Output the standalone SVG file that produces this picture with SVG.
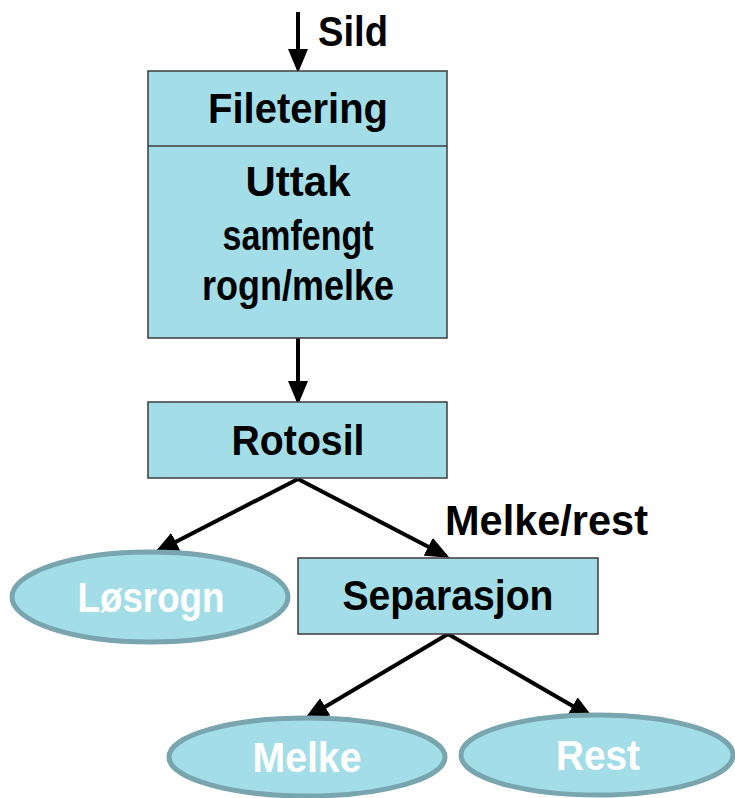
<svg xmlns="http://www.w3.org/2000/svg" width="735" height="798" viewBox="0 0 735 798">
<style>
.box{fill:#A3DEE8;stroke:#3c3c3c;stroke-width:1.5}
.ell{fill:#A3DEE8;stroke:#78A5AE;stroke-width:5}
.t{font-family:"Liberation Sans",Arial,sans-serif;font-weight:bold;font-size:42px;fill:#000;text-anchor:middle}
.w{fill:#fff}
.l{text-anchor:start}
.c{stroke:#000;stroke-width:4;fill:none}
</style>
<defs>
<marker id="ah" markerWidth="6" markerHeight="5" refX="5" refY="2.5" orient="auto" markerUnits="strokeWidth">
<path d="M0,0 L6,2.5 L0,5 Z" fill="#000"/>
</marker>
</defs>
<g id="connectors">
<line class="c" x1="298" y1="12" x2="298" y2="69" marker-end="url(#ah)"/>
<line class="c" x1="298" y1="338" x2="298" y2="401" marker-end="url(#ah)"/>
<line class="c" x1="298" y1="479" x2="158" y2="551" marker-end="url(#ah)"/>
<line class="c" x1="298" y1="479" x2="446" y2="556" marker-end="url(#ah)"/>
<line class="c" x1="448" y1="634" x2="308" y2="717" marker-end="url(#ah)"/>
<line class="c" x1="448" y1="634" x2="590" y2="716" marker-end="url(#ah)"/>
</g>
<g id="sild-label"><text class="t l" x="318" y="46" textLength="70" lengthAdjust="spacingAndGlyphs">Sild</text></g>
<g id="filetering">
<rect class="box" x="148" y="71" width="299" height="267"/>
<line x1="148" y1="146" x2="447" y2="146" stroke="#3c3c3c" stroke-width="1.5"/>
<text class="t" x="298" y="123" textLength="180" lengthAdjust="spacingAndGlyphs">Filetering</text>
<text class="t" x="298" y="196" textLength="105" lengthAdjust="spacingAndGlyphs">Uttak</text>
<text class="t" x="298" y="250" textLength="151" lengthAdjust="spacingAndGlyphs">samfengt</text>
<text class="t" x="298" y="300" textLength="192" lengthAdjust="spacingAndGlyphs">rogn/melke</text>
</g>
<g id="rotosil">
<rect class="box" x="148" y="402" width="299" height="76"/>
<text class="t" x="298" y="455" textLength="133" lengthAdjust="spacingAndGlyphs">Rotosil</text>
</g>
<g id="melke-rest-label"><text class="t l" x="445" y="535" textLength="203" lengthAdjust="spacingAndGlyphs">Melke/rest</text></g>
<g id="losrogn">
<ellipse class="ell" cx="150" cy="597" rx="138" ry="45"/>
<text class="t w" x="151" y="612" textLength="147" lengthAdjust="spacingAndGlyphs">Løsrogn</text>
</g>
<g id="separasjon">
<rect class="box" x="298" y="558" width="300" height="76"/>
<text class="t" x="448" y="610" textLength="211" lengthAdjust="spacingAndGlyphs">Separasjon</text>
</g>
<g id="melke">
<ellipse class="ell" cx="307" cy="757" rx="138" ry="39"/>
<text class="t w" x="307" y="772" textLength="109" lengthAdjust="spacingAndGlyphs">Melke</text>
</g>
<g id="rest">
<ellipse class="ell" cx="597" cy="755" rx="136" ry="40"/>
<text class="t w" x="598" y="770" textLength="84" lengthAdjust="spacingAndGlyphs">Rest</text>
</g>
</svg>
